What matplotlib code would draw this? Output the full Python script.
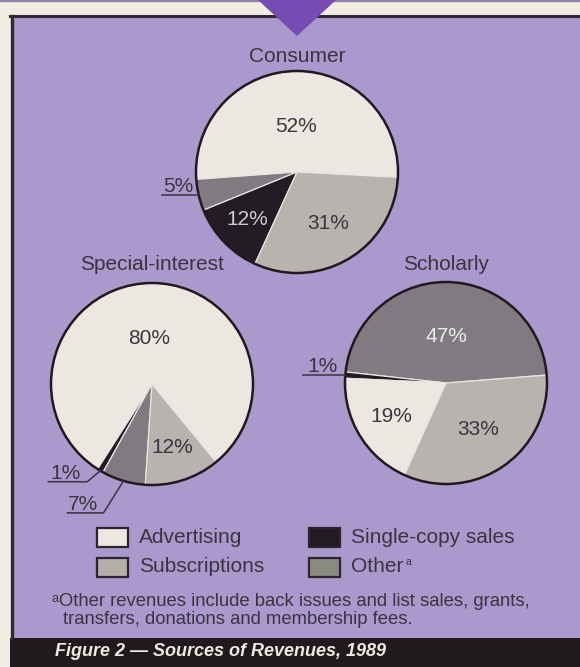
import matplotlib
matplotlib.use("Agg")
import matplotlib.pyplot as plt
import numpy as np
from matplotlib.patches import Rectangle, Polygon, Circle

# data
categories = ["Advertising", "Subscriptions", "Single-copy sales", "Other"]
pie_titles = ["Consumer", "Special-interest", "Scholarly"]

consumer_order = ["Advertising", "Other", "Single-copy sales", "Subscriptions"]
consumer_vals = [52, 5, 12, 31]
special_order = ["Advertising", "Single-copy sales", "Other", "Subscriptions"]
special_vals = [80, 1, 7, 12]
scholarly_order = ["Other", "Single-copy sales", "Advertising", "Subscriptions"]
scholarly_vals = [47, 1, 19, 33]

footnote = ["\u1d43Other revenues include back issues and list sales, grants,",
            "transfers, donations and membership fees."]
caption = "Figure 2 \u2014 Sources of Revenues, 1989"

# colours
PURPLE = "#ab98cc"
DARKPURPLE = "#764cb2"
CREAM = "#f1ede2"
INK = "#3a3440"
wedge_col = {"Advertising": "#ebe8e1", "Subscriptions": "#b7b4af",
             "Single-copy sales": "#221d25", "Other": "#7f7b80"}
swatch_col = {"Advertising": "#ece9e0", "Subscriptions": "#b3b0a7",
              "Single-copy sales": "#211c22", "Other": "#8b8a80"}

FONT = ["Liberation Sans", "DejaVu Sans"]
plt.rcParams['font.family'] = FONT
FS = 15

W, H = 580, 667
fig = plt.figure(figsize=(W / 100, H / 100), dpi=100, facecolor=CREAM)
ax = fig.add_axes([0, 0, 1, 1])

def Y(y):
    return H - y

# frame / background
ax.add_patch(Rectangle((11, Y(638)), W - 11, 622, facecolor=PURPLE, edgecolor="none", zorder=0))
ax.add_patch(Rectangle((10, 0), W - 10, Y(638), facecolor="#201a1f", edgecolor="none", zorder=0))
ax.plot([0, W], [Y(0.8), Y(0.8)], color="#8e7fae", lw=1.6, zorder=1)
ax.plot([10, W], [Y(16), Y(16)], color="#2e2a30", lw=2.2, zorder=1)
ax.plot([11.5, 11.5], [Y(16), Y(638)], color="#2e2a30", lw=2.4, zorder=1)
ax.add_patch(Polygon([(258, Y(0)), (336, Y(0)), (297, Y(36))], closed=True,
                     facecolor=DARKPURPLE, edgecolor="none", zorder=2))

# pies: (title, order, values, center, startangle, title y)
pies = [
    (pie_titles[0], consumer_order, consumer_vals, (297, Y(172)), -3, Y(57)),
    (pie_titles[1], special_order, special_vals, (152, Y(384)), -50.6, Y(265)),
    (pie_titles[2], scholarly_order, scholarly_vals, (446, Y(383)), 4.5, Y(265)),
]
R = 101

# label layout per pie: for each wedge either ("in", frac, color) or ("out", dx, dy, length)
label_layout = [
    [("in", 0.45, INK), ("out", 0, 0, 37), ("in", 0.68, "#cfcccf"), ("in", 0.60, INK)],
    [("in", 0.45, INK), ("out", -13, -11, 39), ("out", -20, -32, 36), ("in", 0.66, INK)],
    [("in", 0.46, "#ececec"), ("out", 0, 0, 42), ("in", 0.64, INK), ("in", 0.56, INK)],
]

for (title, order, vals, c, start, ty), layout in zip(pies, label_layout):
    wedges, _ = ax.pie(vals, colors=[wedge_col[k] for k in order], startangle=start,
                       counterclock=True, center=c, radius=R,
                       wedgeprops=dict(edgecolor="#e9e6e2", linewidth=0.9))
    for w in wedges:
        w.set_zorder(3)
    ax.add_patch(Circle(c, R, facecolor="none", edgecolor="#1e1a20", lw=1.8, zorder=4))
    ax.text(c[0], ty, title, ha="center", va="center", fontsize=FS, color=INK, zorder=5)
    for w, v, spec in zip(wedges, vals, layout):
        mid = np.deg2rad((w.theta1 + w.theta2) / 2)
        if spec[0] == "in":
            fr = spec[1]
            ax.text(c[0] + fr * R * np.cos(mid), c[1] + fr * R * np.sin(mid), f"{v}%",
                    ha="center", va="center", fontsize=FS, color=spec[2], zorder=5)
        else:
            _, dx, dy, ln = spec
            px, py = c[0] + R * np.cos(mid), c[1] + R * np.sin(mid)
            ex, ey = px + dx, py + dy
            ax.plot([px, ex, ex - ln], [py, ey, ey], color=INK, lw=1.1, zorder=5)
            ax.text(ex - ln / 2 - 2, ey + 3, f"{v}%", ha="center", va="baseline",
                    fontsize=FS, color=INK, zorder=5)

# legend
leg_x = [97, 309]
leg_y = [537.5, 567]
for i, cat in enumerate(["Advertising", "Subscriptions", "Single-copy sales", "Other"]):
    col, row = i // 2, i % 2
    x0, yc = leg_x[col], leg_y[row]
    ax.add_patch(Rectangle((x0, Y(yc) - 9.5), 31, 19, facecolor=swatch_col[cat],
                           edgecolor="#2a2530", lw=1.6, zorder=5))
    t = ax.text(x0 + 42, Y(yc), cat, ha="left", va="center", fontsize=FS, color=INK, zorder=5)
    if cat == "Other":
        ax.annotate("a", xy=(1, 0.75), xycoords=t, xytext=(1.5, 0), textcoords="offset points",
                    ha="left", va="center", fontsize=7.5, color=INK, zorder=5)

# footnote
ax.text(52, Y(602), footnote[0], ha="left", va="center", fontsize=13.3, color=INK, zorder=5)
ax.text(63, Y(620), footnote[1], ha="left", va="center", fontsize=13.3, color=INK, zorder=5)

# caption
ax.text(55, Y(652), caption, ha="left", va="center", fontsize=13, color="#eeeae0",
        fontweight="bold", fontstyle="italic", zorder=5)

ax.set_xlim(0, W)
ax.set_ylim(0, H)
ax.set_aspect("equal")
ax.axis("off")

fig.savefig("out.png", dpi=100, facecolor=CREAM)
